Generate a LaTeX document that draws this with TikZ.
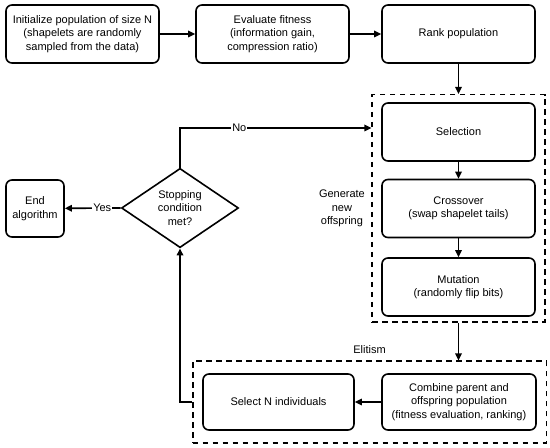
\documentclass[tikz,border=0pt]{standalone}
\usepackage{fontspec}
\setmainfont{Liberation Sans}
\usetikzlibrary{arrows.meta,
                positioning,
                fit,
                shapes.geometric}

\begin{document}
\begin{tikzpicture}%
            [x=1pt, y=1pt,
             font=\fontsize{11}{13.6}\selectfont,
             every node/.style={align=center},
             block/.style={draw, line width=1.6pt, rounded corners=6pt,
                           minimum width=153pt, minimum height=58pt, inner sep=2pt},
             decide/.style={draw, diamond, line width=1.6pt, inner sep=0pt,
                            minimum width=117pt, minimum height=77pt},
             group/.style={draw, line width=1.6pt, dash pattern=on 5.5pt off 4.5pt},
             flow/.style={-{Triangle[length=7pt,width=6.5pt]}, line width=1.6pt},
             tag/.style={fill=white, inner sep=1pt}]
            \useasboundingbox (0,0) rectangle (550,448);

            \node [block] (init) at (82.5,414) {Initialize population of size N\\(shapelets are randomly\\sampled from the data)};
            \node [block] (eval) at (272.5,414) {Evaluate fitness\\(information gain,\\compression ratio)};
            \node [block] (rank) at (458.5,414) {Rank population};

            \node [block] (sel)   at (458.5,316) {Selection};
            \node [block] (cross) at (458.5,239.5) {Crossover\\(swap shapelet tails)};
            \node [block] (mut)   at (458.5,161) {Mutation\\(randomly flip bits)};
            \node [group, fit=(sel) (cross) (mut), inner xsep=9pt, inner ysep=6.5pt, yshift=1pt] (gen) {};
            \node [left=3pt of gen.west] (genlab) {Generate\\new\\offspring};

            \node [decide] (stop) at (180,240) {Stopping\\condition\\met?};
            \node [block, minimum width=58pt, minimum height=57pt] (finish) at (35,239.5) {End\\algorithm};

            \node [block, minimum width=151pt, minimum height=56pt] (seln) at (278.5,46) {Select N individuals};
            \node [block, minimum width=154pt, minimum height=56pt] (comb) at (459,46) {Combine parent and\\offspring population\\(fitness evaluation, ranking)};
            \node [group, fit=(seln) (comb), inner xsep=9.5pt, inner ysep=12pt] (elit) {};
            \node [above=3pt of elit.north] (elitlab) {Elitism};

            \coordinate (noin) at (gen.west |- 0,320);

            \draw [flow] (init) -- (eval);
            \draw [flow] (eval) -- (rank);
            \draw [flow] (rank) -- (gen.north -| rank);
            \draw [flow] (sel) -- (cross);
            \draw [flow] (cross) -- (mut);
            \draw [flow] (gen.south) -- (gen.south |- elit.north);
            \draw [flow] (comb) -- (seln);
            \draw [flow] (elit.west) -| (stop.south);
            \draw [flow] (stop.north) |- node [tag, pos=0.655] {No} (noin);
            \draw [flow] (stop.west) -- node [tag, pos=0.33] {Yes} (finish);

        \end{tikzpicture}
\end{document}
